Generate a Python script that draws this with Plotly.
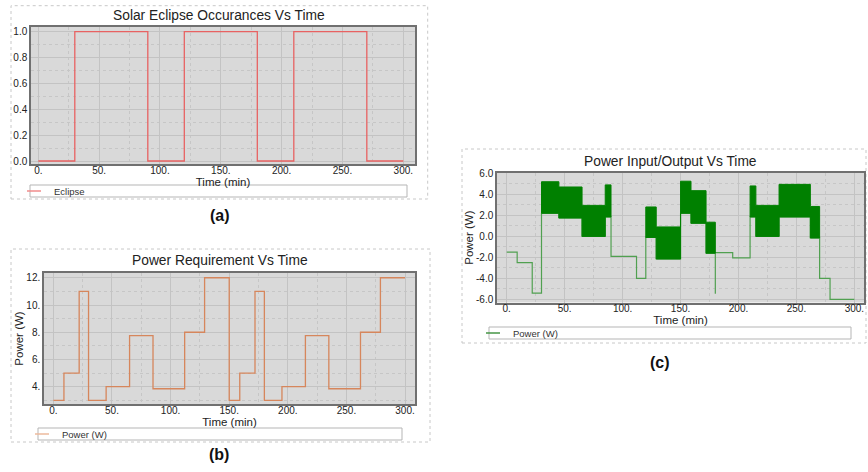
import plotly.graph_objects as go

W, H = 868, 472

# ---------------- data ----------------
# (a) solar eclipse occurrences
eclipse_t = [0, 30, 90, 120, 180, 210, 270, 300]
eclipse_v = [0, 1, 0, 1, 0, 1, 0, 0]

# (b) power requirement (W)
req_t = [0, 9, 22, 30, 45, 65, 85, 112, 129, 150, 159, 172, 180, 195, 215, 235, 262, 279, 300]
req_p = [3, 5, 11, 3, 4, 7.75, 3.85, 8, 12, 3, 5, 11, 3, 4, 7.75, 3.85, 8, 12, 12]

# (c) power input/output (W) - base line
io_t = [0, 9, 22, 30, 45, 65, 85, 90, 112, 120, 129, 150, 159, 172, 180, 180, 195, 210, 215, 235, 262, 270, 279, 300]
io_p = [-1.5, -2.5, -5.4, 2.2, 1.75, 0.0, 1.85, -1.9, -4.0, -0.1, -2.15, 2.2, 1.25, -1.6, -5.45, -1.55,
        -2.05, 1.85, 0.0, 1.85, -0.15, -4.0, -6.0, -6.0]

# (c) oscillation envelopes during sunlit periods
band1_t = [30, 45, 65, 85, 90]
band1_top = [5.2, 4.7, 2.95, 4.9]
band1_bot = [2.2, 1.75, 0.0, 1.85]
band2_t = [120, 129, 150, 159, 172, 180]
band2_top = [2.8, 0.9, 5.25, 4.35, 1.35]
band2_bot = [-0.1, -2.15, 2.2, 1.25, -1.6]
band3_t = [210, 215, 235, 262, 270]
band3_top = [4.8, 2.95, 4.95, 2.85]
band3_bot = [1.85, 0.0, 1.85, -0.15]

x_ticks = [0, 50, 100, 150, 200, 250, 300]
x_ticktext = ['0.', '50.', '100.', '150.', '200.', '250.', '300.']
a_yticks = [0, 0.2, 0.4, 0.6, 0.8, 1.0]
a_yticktext = ['0.0', '0.2', '0.4', '0.6', '0.8', '1.0']
b_yticks = [4, 6, 8, 10, 12]
b_yticktext = ['4.', '6.', '8.', '10.', '12.']
c_yticks = [-6, -4, -2, 0, 2, 4, 6]
c_yticktext = ['-6.0', '-4.0', '-2.0', '0.0', '2.0', '4.0', '6.0']

# ---------------- styling ----------------
FONT = 'Liberation Sans, Arial, sans-serif'
BG = '#d9d9d9'
GRID = '#c3c3c3'
GRID_MINOR = '#c6c6c6'
FRAME = '#707070'
RED = 'rgb(232,98,98)'
ORANGE = 'rgb(214,134,92)'
GREEN = '#008000'
GREEN_LINE = 'rgb(80,160,80)'


def px_x(p):
    return p / W


def px_y(p):
    return 1 - p / H


def step_poly(ts, top, bot):
    xs, ys = [], []
    for i, v in enumerate(top):
        xs += [ts[i], ts[i + 1]]
        ys += [v, v]
    for i in reversed(range(len(bot))):
        xs += [ts[i + 1], ts[i]]
        ys += [bot[i], bot[i]]
    xs.append(ts[0])
    ys.append(top[0])
    return xs, ys


fig = go.Figure()

# (a)
fig.add_trace(go.Scatter(x=eclipse_t, y=eclipse_v, mode='lines', line=dict(color=RED, width=1.3, shape='hv'),
                         name='Eclipse', showlegend=False, xaxis='x', yaxis='y'))
fig.add_trace(go.Scatter(x=[None], y=[None], mode='markers', name='Eclipse', legend='legend',
                         marker=dict(symbol='line-ew', size=10, line=dict(color='rgb(240,140,140)', width=1.5)),
                         xaxis='x', yaxis='y'))

# (b)
fig.add_trace(go.Scatter(x=req_t, y=req_p, mode='lines', line=dict(color=ORANGE, width=1.3, shape='hv'),
                         name='Power (W)', showlegend=False, xaxis='x2', yaxis='y2'))
fig.add_trace(go.Scatter(x=[None], y=[None], mode='markers', name='Power (W)', legend='legend2',
                         marker=dict(symbol='line-ew', size=10, line=dict(color='rgb(236,186,156)', width=1.5)),
                         xaxis='x2', yaxis='y2'))

# (c)
fig.add_trace(go.Scatter(x=io_t, y=io_p, mode='lines', line=dict(color=GREEN_LINE, width=1.2, shape='hv'),
                         name='Power (W)', showlegend=False, xaxis='x3', yaxis='y3'))
bx, by = [], []
for ts, tp, bt in [(band1_t, band1_top, band1_bot), (band2_t, band2_top, band2_bot), (band3_t, band3_top, band3_bot)]:
    xs, ys = step_poly(ts, tp, bt)
    if bx:
        bx.append(None)
        by.append(None)
    bx += xs
    by += ys
fig.add_trace(go.Scatter(x=bx, y=by, mode='lines', fill='toself', fillcolor=GREEN,
                         line=dict(color=GREEN, width=1), name='Power (W)', showlegend=False,
                         xaxis='x3', yaxis='y3'))
fig.add_trace(go.Scatter(x=[None], y=[None], mode='markers', name='Power (W)', legend='legend3',
                         marker=dict(symbol='line-ew', size=10, line=dict(color='rgb(70,150,70)', width=1.5)),
                         xaxis='x3', yaxis='y3'))


def axis(domain, rng, tickvals, ticktext, minor_vals, title=None, anchor=None, letter='x'):
    d = dict(domain=domain, range=rng, tickmode='array', tickvals=tickvals, ticktext=ticktext,
             showgrid=True, gridcolor=GRID, gridwidth=1, showline=True, mirror=True,
             linecolor=FRAME, linewidth=1.5, zeroline=False, ticks='', automargin=False,
             fixedrange=True, tickfont=dict(family=FONT, size=10, color='#222'),
             minor=dict(tickmode='array', tickvals=minor_vals, showgrid=True, gridcolor=GRID_MINOR,
                        griddash='dot', gridwidth=1, ticks=''),
             anchor=anchor)
    if letter == 'x':
        d['ticklabelstandoff'] = -4
    if title:
        d['title'] = dict(text=title, font=dict(family=FONT, size=11.5, color='#222'), standoff=0)
    return d


x_minor = [25, 75, 125, 175, 225, 275]

fig.update_layout(
    width=W, height=H, autosize=False,
    margin=dict(l=0, r=0, t=0, b=0),
    paper_bgcolor='white', plot_bgcolor=BG,
    font=dict(family=FONT, color='#222'),
    xaxis=axis([px_x(31), px_x(415)], [-6, 309.6], x_ticks, x_ticktext, x_minor, 'Time (min)', 'y', 'x'),
    yaxis=axis([px_y(164), px_y(27)], [-0.023, 1.036], a_yticks, a_yticktext,
               [0.1, 0.3, 0.5, 0.7, 0.9], None, 'x', 'y'),
    xaxis2=axis([px_x(44), px_x(415)], [-8, 308.5], x_ticks, x_ticktext, x_minor, 'Time (min)', 'y2', 'x'),
    yaxis2=axis([px_y(404), px_y(273)], [2.73, 12.35], b_yticks, b_yticktext,
                [3, 5, 7, 9, 11], 'Power (W)', 'x2', 'y'),
    xaxis3=axis([px_x(497), px_x(864)], [-8.4, 308.3], x_ticks, x_ticktext, x_minor, 'Time (min)', 'y3', 'x'),
    yaxis3=axis([px_y(302.5), px_y(172.7)], [-6.29, 6.06], c_yticks, c_yticktext,
                [-5, -3, -1, 1, 3, 5], 'Power (W)', 'x3', 'y'),
    legend=dict(x=px_x(14), y=px_y(191), xanchor='left', yanchor='middle', bgcolor='rgba(0,0,0,0)',
                borderwidth=0, font=dict(family=FONT, size=9.5, color='#333'), itemwidth=30),
    legend2=dict(x=px_x(22), y=px_y(434), xanchor='left', yanchor='middle', bgcolor='rgba(0,0,0,0)',
                 borderwidth=0, font=dict(family=FONT, size=9.5, color='#333'), itemwidth=30),
    legend3=dict(x=px_x(473), y=px_y(333), xanchor='left', yanchor='middle', bgcolor='rgba(0,0,0,0)',
                 borderwidth=0, font=dict(family=FONT, size=9.5, color='#333'), itemwidth=30),
)

# panel boxes (dashed) and legend boxes
shapes = []
for (x0, y0, x1, y1) in [(11, 5.7, 427.7, 199), (11, 249, 430, 442), (462, 149, 866, 343)]:
    shapes.append(dict(type='rect', xref='paper', yref='paper', x0=px_x(x0), x1=px_x(x1),
                       y0=px_y(y1), y1=px_y(y0), line=dict(color='#c8c8c8', width=1, dash='dot'),
                       layer='below'))
for (x0, y0, x1, y1) in [(30, 185, 407, 197), (38, 428, 402, 440), (489, 327, 851, 339)]:
    shapes.append(dict(type='rect', xref='paper', yref='paper', x0=px_x(x0), x1=px_x(x1),
                       y0=px_y(y1), y1=px_y(y0), line=dict(color='#b5b5b5', width=1),
                       fillcolor='white', layer='below'))
fig.update_layout(shapes=shapes)

# titles and panel labels
ann = []
for text, x, y in [('Solar Eclipse Occurances Vs Time', 219, 15),
                   ('Power Requirement Vs Time', 220, 260.5),
                   ('Power Input/Output Vs Time', 670, 161)]:
    ann.append(dict(text=text, x=px_x(x), y=px_y(y), xref='paper', yref='paper', showarrow=False,
                    xanchor='center', yanchor='middle', font=dict(family=FONT, size=13.8, color='#222')))
for text, x, y in [('<b>(a)</b>', 220, 215), ('<b>(b)</b>', 219, 454.5), ('<b>(c)</b>', 660, 362)]:
    ann.append(dict(text=text, x=px_x(x), y=px_y(y), xref='paper', yref='paper', showarrow=False,
                    xanchor='center', yanchor='middle', font=dict(family=FONT, size=16, color='#111')))
fig.update_layout(annotations=ann)

fig.write_html('out.html', config={'displayModeBar': False, 'staticPlot': False},
               post_script="document.body.style.margin='0px';document.body.style.overflow='hidden';")
